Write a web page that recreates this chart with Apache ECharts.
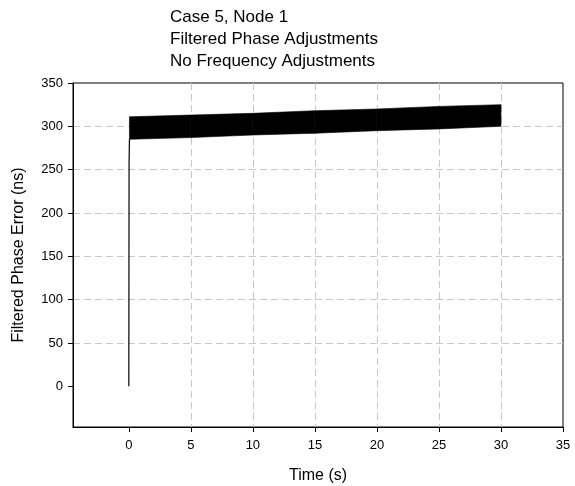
<!DOCTYPE html>
<html>
<head>
<meta charset="utf-8">
<script src="https://cdn.jsdelivr.net/npm/echarts@6/dist/echarts.min.js"></script>
<style>
  html, body { margin: 0; padding: 0; background: #fff; }
  #chart { width: 575px; height: 486px; }
</style>
</head>
<body>
<div id="chart"></div>
<script>
// Start-up transient: phase error climbs from 0 to the steady band
const transientTime = [0, 0.02, 0.05];
const transientValue = [0, 258, 285];

// Envelope of the rapidly oscillating filtered phase error
const bandTime = [0.05, 5, 10, 15, 20, 25, 30];
const bandLower = [285, 287, 290, 292, 295, 297, 300];
const bandUpper = [311, 313, 315, 318, 320, 323, 325];

// Axis tick labels
const xTicks = [0, 5, 10, 15, 20, 25, 30, 35];
const yTicks = [0, 50, 100, 150, 200, 250, 300, 350];

const X_MIN = -4.5, X_MAX = 35;
const Y_MIN = -47, Y_MAX = 350;

const FONT = '"Liberation Sans", Arial, sans-serif';

const chart = echarts.init(document.getElementById('chart'));

const transientData = transientTime.map((t, i) => [t, transientValue[i]]);
const bandData = bandTime.map((t, i) => [t, bandLower[i], bandUpper[i]]);

function gridLine() {
  return {
    show: true, showMinLine: false, showMaxLine: false,
    lineStyle: { color: '#c8c8c8', width: 1, type: [7, 4] }
  };
}

// Fill the oscillation envelope segment by segment between lower and upper bounds
function renderBand(params, api) {
  const i = params.dataIndex;
  if (i >= bandData.length - 1) return null;
  const a = bandData[i];
  const b = bandData[i + 1];
  const pts = [
    api.coord([a[0], a[1]]),
    api.coord([b[0], b[1]]),
    api.coord([b[0], b[2]]),
    api.coord([a[0], a[2]])
  ];
  return {
    type: 'polygon',
    shape: { points: pts },
    style: { fill: '#000', stroke: '#000', lineWidth: 0.6 }
  };
}

chart.setOption({
  animation: false,
  backgroundColor: '#ffffff',
  title: {
    text: 'Case 5, Node 1\nFiltered Phase Adjustments\nNo Frequency Adjustments',
    left: 170,
    top: 6,
    padding: 0,
    textStyle: { fontFamily: FONT, fontSize: 17, fontWeight: 'normal', color: '#000', lineHeight: 22 }
  },
  grid: {
    left: 73, right: 12, top: 83, bottom: 59,
    containLabel: false,
    outerBoundsMode: 'none',
    show: true, borderColor: '#000', borderWidth: 1, backgroundColor: 'transparent'
  },
  xAxis: {
    type: 'value',
    min: X_MIN, max: X_MAX,
    name: 'Time (s)',
    nameLocation: 'middle',
    nameGap: 41,
    nameTextStyle: { fontFamily: FONT, fontSize: 16, color: '#000' },
    axisLine: { show: true, onZero: false, lineStyle: { color: '#000', width: 1 } },
    axisTick: { show: true, customValues: xTicks, length: 5, inside: false, lineStyle: { color: '#000' } },
    axisLabel: { customValues: xTicks, margin: 12, fontFamily: FONT, fontSize: 13, color: '#000' },
    splitLine: gridLine()
  },
  yAxis: {
    type: 'value',
    min: Y_MIN, max: Y_MAX,
    name: 'Filtered Phase Error (ns)',
    nameLocation: 'middle',
    nameGap: 46,
    nameTextStyle: { fontFamily: FONT, fontSize: 16, color: '#000' },
    axisLine: { show: true, onZero: false, lineStyle: { color: '#000', width: 1 } },
    axisTick: { show: true, customValues: yTicks, length: 5, inside: false, lineStyle: { color: '#000' } },
    axisLabel: { customValues: yTicks, margin: 10, fontFamily: FONT, fontSize: 13, color: '#000' },
    splitLine: gridLine()
  },
  series: [
    {
      type: 'custom',
      data: bandData,
      encode: { x: 0, y: [1, 2] },
      renderItem: renderBand,
      z: 2
    },
    {
      type: 'line',
      data: transientData,
      symbol: 'none',
      lineStyle: { color: '#000', width: 1.2 },
      z: 3
    }
  ]
});
</script>
</body>
</html>
